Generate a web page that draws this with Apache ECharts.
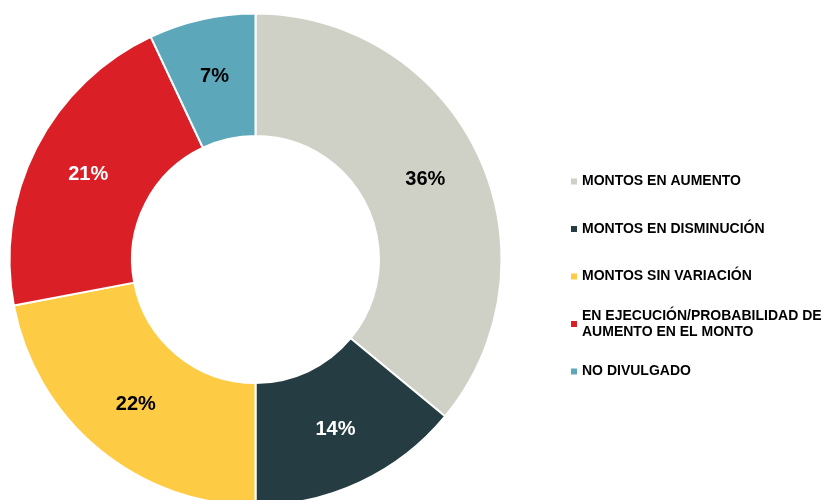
<!DOCTYPE html>
<html>
  <head>
    <meta charset="utf-8" />
    <title>Montos</title>
    <script src="https://cdn.jsdelivr.net/npm/echarts@6.0.0/dist/echarts.min.js"></script>
    <style>
      html, body { margin: 0; padding: 0; background: #fff; }
      #chart { width: 822px; height: 500px; }
    </style>
  </head>
  <body>
    <div id="chart"></div>
    <script type="text/javascript">
      const names = [
        'MONTOS EN AUMENTO',
        'MONTOS EN DISMINUCIÓN',
        'MONTOS SIN VARIACIÓN',
        'EN EJECUCIÓN/PROBABILIDAD DE\nAUMENTO EN EL MONTO',
        'NO DIVULGADO'
      ];
      const values = [36, 14, 22, 21, 7];
      const colors = ['#CFD0C6', '#253D42', '#FECB45', '#DA1F26', '#5CA7BA'];
      const labelColors = ['#000', '#fff', '#000', '#fff', '#000'];

      const chart = echarts.init(document.getElementById('chart'), null, { renderer: 'canvas' });

      // one legend per item so the two-line entry keeps the same pitch
      const legends = names.map(function (name, i) {
        const multi = name.indexOf('\n') >= 0;
        return {
          data: [name],
          orient: 'vertical',
          left: 571,
          top: 173.5 + i * 47.5 - (multi ? 16 : 0),
          padding: 0,
          icon: 'rect',
          itemWidth: 6,
          itemHeight: 6,
          itemStyle: { borderWidth: 0 },
          selectedMode: false,
          textStyle: {
            fontFamily: 'Liberation Sans',
            fontWeight: 'bold',
            fontSize: 14,
            lineHeight: 16,
            color: '#000',
            padding: multi ? [16, 0, 0, 0] : 0
          }
        };
      });

      chart.setOption({
        animation: false,
        color: colors,
        legend: legends,
        series: [
          {
            type: 'pie',
            center: [255.5, 259.5],
            radius: [123.5, 246],
            startAngle: 90,
            clockwise: true,
            avoidLabelOverlap: false,
            itemStyle: { borderColor: '#fff', borderWidth: 2 },
            emphasis: { disabled: true },
            label: {
              show: true,
              position: 'inside',
              formatter: '{c}%',
              fontFamily: 'Liberation Sans Narrow, Arial Narrow, Liberation Sans, sans-serif',
              fontWeight: 'bold',
              fontSize: 20
            },
            labelLine: { show: false },
            data: names.map(function (name, i) {
              return {
                name: name,
                value: values[i],
                label: { color: labelColors[i] }
              };
            })
          }
        ]
      });
    </script>
  </body>
</html>
